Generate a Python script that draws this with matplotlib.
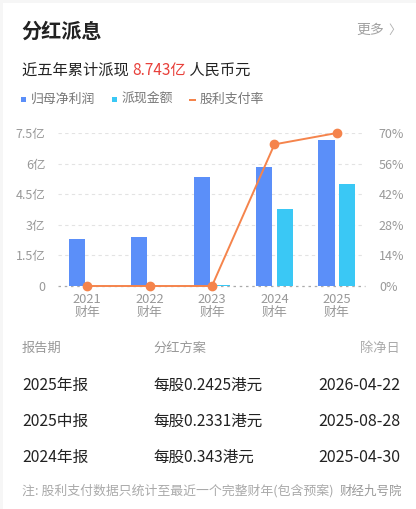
import matplotlib
matplotlib.use('Agg')
import matplotlib.pyplot as plt
from matplotlib.patches import Rectangle
import numpy as np

plt.rcParams['font.family'] = ['Noto Sans CJK SC', 'DejaVu Sans']

years = ['2021', '2022', '2023', '2024', '2025']
net_profit = [2.29, 2.39, 5.33, 5.82, 7.16]      # 亿
cash_div = [0.0, 0.0, 0.04, 3.76, 5.0]            # 亿
payout = [0.0, 0.0, 0.0, 64.8, 70.0]              # %
left_ticks = [0, 1.5, 3, 4.5, 6, 7.5]
left_labels = ['0', '1.5亿', '3亿', '4.5亿', '6亿', '7.5亿']
right_ticks = [0, 14, 28, 42, 56, 70]

table_head = ['报告期', '分红方案', '除净日']
table_rows = [
    ['2025年报', '每股0.2425港元', '2026-04-22'],
    ['2025中报', '每股0.2331港元', '2025-08-28'],
    ['2024年报', '每股0.343港元', '2025-04-30'],
]

BLUE = '#5b8ff9'
CYAN = '#3ac8f5'
ORANGE = '#f5844c'
GRAY = '#999999'

W, H = 416, 509
fig = plt.figure(figsize=(W / 100, H / 100), dpi=100, facecolor='#f6f6f6')
fig.patches.append(Rectangle((3 / W, 0), 1, 1 - 3 / H, transform=fig.transFigure,
                             facecolor='white', edgecolor='none', zorder=-5))


def fx(px):
    return px / W


def fy(py):
    return 1 - py / H


# header
fig.text(fx(21), fy(31), '分红派息', fontsize=14.5, fontweight='bold', color='#222222', va='center')
fig.text(fx(356), fy(30), '更多', fontsize=10, color='#a0a0a0', va='center')
fig.text(fx(401), fy(30), '〉', fontsize=9, color='#b0b0b0', va='center', ha='right')
t = fig.text(fx(22), fy(70), '近五年累计派现 ', fontsize=11, color='#222222', va='center')
fig.canvas.draw()
r = fig.canvas.get_renderer()
bb = t.get_window_extent(r)
t2 = fig.text(bb.x1 / W, fy(70), '8.743亿', fontsize=11, color='#e8403a', va='center')
bb2 = t2.get_window_extent(r)
fig.text(bb2.x1 / W, fy(70), ' 人民币元', fontsize=11, color='#222222', va='center')

# legend
fig.patches.append(Rectangle((fx(21), fy(102)), 5 / W, 5 / H, transform=fig.transFigure,
                             facecolor=BLUE, edgecolor='none', zorder=3))
fig.text(fx(31), fy(99), '归母净利润', fontsize=9.3, color='#777777', va='center')
fig.patches.append(Rectangle((fx(112), fy(102)), 5 / W, 5 / H, transform=fig.transFigure,
                             facecolor=CYAN, edgecolor='none', zorder=3))
fig.text(fx(122), fy(99), '派现金额', fontsize=9.3, color='#777777', va='center')
fig.patches.append(Rectangle((fx(189), fy(101)), 7 / W, 2 / H, transform=fig.transFigure,
                             facecolor=ORANGE, edgecolor='none', zorder=3))
fig.text(fx(200), fy(99), '股利支付率', fontsize=9.3, color='#777777', va='center')

# chart
ax = fig.add_axes([fx(58), fy(286), (365 - 58) / W, (286 - 133) / H])
ax.set_facecolor('none')
x = np.arange(len(years))
bw = 0.26
off = 0.165
ax.bar(x - off, net_profit, width=bw, color=BLUE, zorder=2)
ax.bar(x + off, cash_div, width=bw, color=CYAN, zorder=2)
ax.set_xlim(-0.465, 4.45)
ax.set_ylim(0, 7.5)
ax.set_yticks(left_ticks)
ax.set_yticklabels(left_labels)
ax.set_xticks(x)
ax.set_xticklabels([y + '\n财年' for y in years], linespacing=1.05)
for yv in left_ticks[1:]:
    ax.axhline(yv, color='#e3e3e3', lw=0.8, ls=(0, (3, 3)), zorder=1)
ax.axhline(0, color='#aaaaaa', lw=0.9, ls=(0, (2, 3)), zorder=1, clip_on=False)
for s in ax.spines.values():
    s.set_visible(False)
ax.tick_params(axis='both', length=0, colors=GRAY, labelsize=9.3)
ax.tick_params(axis='y', labelsize=9, pad=9)
ax.tick_params(axis='x', pad=5)

ax2 = ax.twinx()
ax2.plot(x, payout, color=ORANGE, lw=1.4, marker='o', ms=6, zorder=3, clip_on=False)
ax2.set_ylim(0, 70)
ax2.set_yticks(right_ticks)
ax2.set_yticklabels([f'{v}%' for v in right_ticks])
for s in ax2.spines.values():
    s.set_visible(False)
ax2.tick_params(axis='y', length=0, colors=GRAY, labelsize=9, pad=10)

# table
col_x = [22, 153, 400]
fig.text(fx(col_x[0]), fy(348), table_head[0], fontsize=9.5, color=GRAY, va='center')
fig.text(fx(col_x[1]), fy(348), table_head[1], fontsize=9.5, color=GRAY, va='center')
fig.text(fx(col_x[2]), fy(348), table_head[2], fontsize=9.5, color='#aaaaaa', va='center', ha='right')
for i, row in enumerate(table_rows):
    yy = fy(385 + i * 36)
    fig.text(fx(col_x[0]), yy, row[0], fontsize=11.3, color='#222222', va='center')
    fig.text(fx(col_x[1]), yy, row[1], fontsize=11.2, color='#222222', va='center')
    fig.text(fx(col_x[2]), yy, row[2], fontsize=11.5, color='#222222', va='center', ha='right')

fig.text(fx(22), fy(491), '注: 股利支付数据只统计至最近一个完整财年(包含预案)', fontsize=9.3,
         color='#aaaaaa', va='center')
fig.text(fx(402), fy(491), '财经九号院', fontsize=9, color='#999999', va='center', ha='right')

fig.savefig('out.png', dpi=100, facecolor=fig.get_facecolor())
